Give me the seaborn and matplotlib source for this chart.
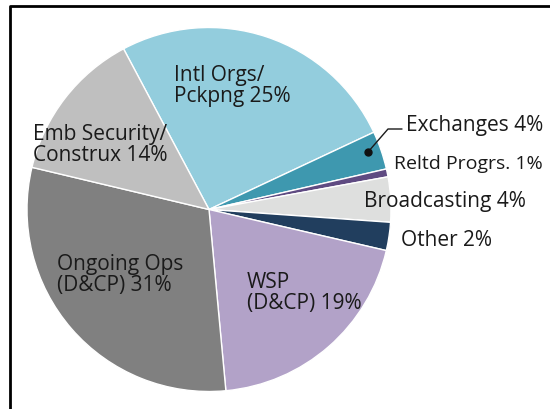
import matplotlib
matplotlib.use("Agg")
import matplotlib.pyplot as plt
import seaborn as sns
from matplotlib.lines import Line2D

# slice shares (clockwise from the top)
categories = ["Intl Orgs/\nPckpng", "Exchanges", "Reltd Progrs.", "Broadcasting",
              "Other", "WSP\n(D&CP)", "Ongoing Ops\n(D&CP)", "Emb Security/\nConstrux"]
shares = [25.8, 3.4, 0.7, 4.0, 2.5, 19.9, 30.2, 13.5]
pct_labels = ["25%", "4%", "1%", "4%", "2%", "19%", "31%", "14%"]
colors = ["#93CDDD", "#3E98AF", "#5F4B82", "#DEDFDE",
          "#213E5E", "#B2A2C8", "#808080", "#BFBFBF"]

sns.set_theme(style="white")
plt.rcParams['font.family'] = ['Open Sans', 'DejaVu Sans']

W, H = 550, 409
fig = plt.figure(figsize=(W / 100, H / 100), dpi=100)

# pie centre (209, 209.5) px, radius 182 px
cx, cy, r = 209, 209.5, 182
ax = fig.add_axes([(cx - r) / W, (H - cy - r) / H, 2 * r / W, 2 * r / H])
ax.pie(shares, colors=colors, startangle=118, counterclock=False,
       wedgeprops=dict(edgecolor="white", linewidth=1))
ax.set_xlim(-1, 1)
ax.set_ylim(-1, 1)
ax.set_aspect("equal")
ax.axis("off")


def fx(px):
    return px / W


def fy(py):
    return 1 - py / H


# label positions in px (left edge, vertical centre) and sizes
label_pos = [(174, 86), (406, 126), (394, 164), (364, 201),
             (401, 240), (247, 293), (57, 275), (33, 145)]
label_fs = [15, 15, 14, 15, 15, 15, 15, 15]
for cat, pct, (px, py), fs in zip(categories, pct_labels, label_pos, label_fs):
    fig.text(fx(px), fy(py), f"{cat} {pct}", ha="left", va="center",
             fontsize=fs, color="#1a1a1a", linespacing=1.0)

# leader for Exchanges
fig.add_artist(Line2D([fx(368), fx(388), fx(402)], [fy(152), fy(129), fy(129)],
                      color="#1a1a1a", linewidth=1))
fig.add_artist(Line2D([fx(368)], [fy(152)], marker="o", markersize=5,
                      color="#111111", linestyle="none"))

# frame on the left and top
fig.add_artist(Line2D([fx(10), fx(10), fx(550)], [fy(409), fy(5.5), fy(5.5)],
                      color="black", linewidth=2))

fig.savefig("out.png", dpi=100, facecolor="white")
